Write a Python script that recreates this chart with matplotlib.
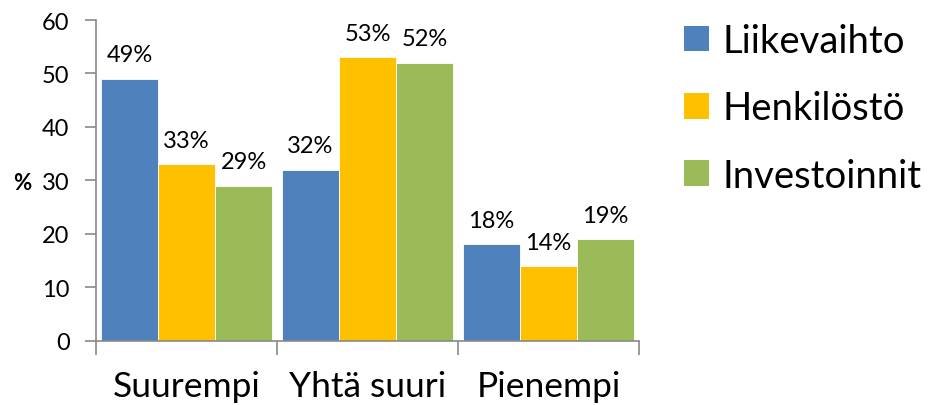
import matplotlib
matplotlib.use("Agg")
import matplotlib.pyplot as plt
import numpy as np
from matplotlib.patches import Patch

categories = ["Suurempi", "Yhtä suuri", "Pienempi"]
series_names = ["Liikevaihto", "Henkilöstö", "Investoinnit"]
liikevaihto = [49, 32, 18]
henkilosto = [33, 53, 14]
investoinnit = [29, 52, 19]
yticks = [0, 10, 20, 30, 40, 50, 60]
colors = ["#4F81BD", "#FFC000", "#9BBB59"]

plt.rcParams['font.family'] = ['Lato', 'DejaVu Sans']

fig = plt.figure(figsize=(9.31, 4.06), dpi=100)
ax = fig.add_axes([96/931, 1-341.7/406, 543/931, (341.7-21)/406])

x = np.arange(len(categories))
w = 0.315
data = [liikevaihto, henkilosto, investoinnit]
for i, (vals, c) in enumerate(zip(data, colors)):
    bars = ax.bar(x + (i-1)*w, vals, width=w, color=c, edgecolor='white', linewidth=0.6, zorder=2)
    for b, v in zip(bars, vals):
        ax.annotate(f"{v}%", (b.get_x()+b.get_width()/2, v), xytext=(0, 12.5),
                    textcoords='offset points', ha='center', va='baseline', fontsize=17, color='#000000')

ax.set_xlim(-0.5, 2.5)
ax.set_ylim(0, 60)
ax.set_yticks(yticks)
ax.set_yticklabels([str(t) for t in yticks], fontsize=17)
ax.set_xticks([-0.5, 0.5, 1.5, 2.5])
ax.set_xticklabels([])
ax.set_xticks(x, minor=True)
ax.set_xticklabels(categories, minor=True, fontsize=25.5)
ax.tick_params(axis='x', which='minor', length=0, pad=21)
ax.tick_params(axis='x', which='major', length=10, width=1.2, color='#898989', direction='out')
ax.tick_params(axis='y', length=8, width=1.2, color='#898989', direction='out', pad=11)
for s in ['top', 'right']:
    ax.spines[s].set_visible(False)
for s in ['left', 'bottom']:
    ax.spines[s].set_color('#898989')
    ax.spines[s].set_linewidth(1.2)

fig.text(22/931, 1-183/406, "%", fontsize=16, fontweight='bold', ha='center', va='center')

handles = [Patch(facecolor=c, edgecolor='none') for c in colors]
leg = fig.legend(handles, series_names, loc='upper left', bbox_to_anchor=(684/931, 1-24/406),
                 frameon=False, fontsize=27.5, handlelength=0.65, handleheight=0.65,
                 handletextpad=0.35, labelspacing=0.82, borderaxespad=0, borderpad=0)

fig.savefig("out.png", dpi=100)
